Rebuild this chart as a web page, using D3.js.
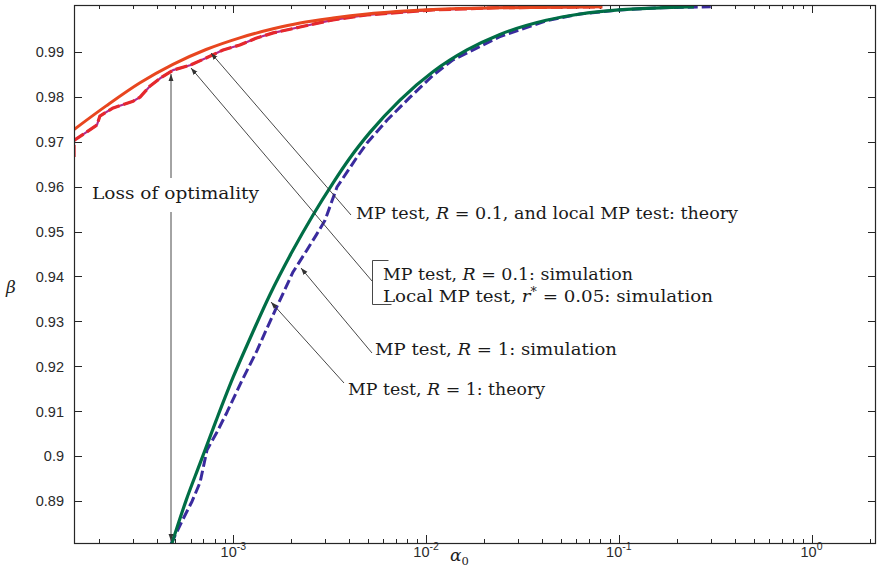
<!DOCTYPE html>
<html><head><meta charset="utf-8">
<script src="https://cdn.jsdelivr.net/npm/d3@7"></script>
<style>body{margin:0;background:#fff}</style>
</head><body>
<script>
// ---------------- data ----------------
const alphaTheoryR01 = [1.49e-4, 2.18e-4, 3.28e-4, 4.86e-4, 7.22e-4, 1.08e-3, 1.61e-3, 2.22e-3, 3.29e-3, 4.94e-3, 1.09e-2, 2.42e-2, 8.2e-2];
const betaTheoryR01  = [0.9727, 0.9779, 0.9831, 0.9872, 0.9905, 0.9931, 0.9951, 0.9964, 0.9975, 0.9984, 0.9994, 0.9998, 1.0000];

const alphaSimR01 = [1.49e-4, 1.49e-4, 1.70e-4, 1.96e-4, 2.03e-4, 2.38e-4, 3.02e-4, 3.28e-4, 3.70e-4, 4.17e-4, 4.86e-4, 5.96e-4, 7.22e-4, 8.84e-4, 1.08e-3, 1.31e-3, 1.61e-3, 2.22e-3, 3.29e-3, 4.94e-3, 1.09e-2, 2.42e-2, 8.2e-2];
const betaSimR01  = [0.9666, 0.9703, 0.9719, 0.9737, 0.9757, 0.9775, 0.9790, 0.9799, 0.9824, 0.9841, 0.9859, 0.9870, 0.9886, 0.9904, 0.9915, 0.9930, 0.9942, 0.9955, 0.9971, 0.9982, 0.9993, 0.9998, 1.0000];

const alphaTheoryR1 = [4.7e-4, 5.7e-4, 6.7e-4, 8.1e-4, 1.0e-3, 1.22e-3, 1.55e-3, 2.0e-3, 2.6e-3, 3.3e-3, 4.0e-3, 5.1e-3, 7.3e-3, 1.09e-2, 1.63e-2, 2.4e-2, 4.2e-2, 6.3e-2, 0.10, 0.17, 0.245];
const betaTheoryR1  = [0.8794, 0.8903, 0.8983, 0.9077, 0.9177, 0.9262, 0.9360, 0.9452, 0.9538, 0.9609, 0.9662, 0.9720, 0.9792, 0.9856, 0.9904, 0.9938, 0.9970, 0.9984, 0.9993, 0.9998, 1.0000];

const alphaSimR1 = [4.75e-4, 5.42e-4, 6.11e-4, 6.72e-4, 7.30e-4, 8.23e-4, 9.27e-4, 1.11e-3, 1.33e-3, 1.48e-3, 1.65e-3, 2.04e-3, 2.41e-3, 2.69e-3, 2.99e-3, 3.45e-3, 4.39e-3, 4.94e-3, 6.28e-3, 8.26e-3, 1.09e-2, 1.38e-2, 2.4e-2, 4.2e-2, 6.3e-2, 0.10, 0.17, 0.30];
const betaSimR1  = [0.8805, 0.8856, 0.8900, 0.8942, 0.9014, 0.9054, 0.9098, 0.9169, 0.9236, 0.9281, 0.9325, 0.9410, 0.9459, 0.9492, 0.9525, 0.9599, 0.9666, 0.9697, 0.9748, 0.9799, 0.9848, 0.9882, 0.9933, 0.9969, 0.9984, 0.9993, 0.9998, 1.0000];

const yTickValues = [0.89, 0.90, 0.91, 0.92, 0.93, 0.94, 0.95, 0.96, 0.97, 0.98, 0.99];
const yTickLabels = ["0.89", "0.9", "0.91", "0.92", "0.93", "0.94", "0.95", "0.96", "0.97", "0.98", "0.99"];
const xTickExponents = [-3, -2, -1, 0];

// ---------------- layout ----------------
const W = 877, H = 575;
const L = 74, T = 5, R = 876, B = 543;
const serif = "'DejaVu Serif', 'Liberation Serif', serif";
const sans = "'Liberation Sans', Arial, Helvetica, sans-serif";

const x = d3.scaleLog().domain([1.49e-4, 2.16]).range([L, R]);
const y = d3.scaleLinear().domain([0.8807, 1.0004]).range([B, T]);

const svg = d3.select("body").append("svg").attr("width", W).attr("height", H);
const defs = svg.append("defs");
defs.append("clipPath").attr("id", "clip").append("rect")
  .attr("x", L).attr("y", T).attr("width", R - L).attr("height", B - T);
defs.append("marker").attr("id", "arr").attr("viewBox", "0 0 10 10")
  .attr("refX", 10).attr("refY", 5).attr("markerWidth", 7).attr("markerHeight", 7)
  .attr("markerUnits", "userSpaceOnUse").attr("orient", "auto")
  .append("path").attr("d", "M0,1.5 L10,5 L0,8.5 Z").attr("fill", "#333");

// ---------------- axes ----------------
const axisColor = "#262626";
const xTicks = [];
for (let e = -4; e <= 0; e++) {
  for (let m = 1; m <= 9; m++) {
    const v = m * Math.pow(10, e);
    if (v >= x.domain()[0] && v <= x.domain()[1]) xTicks.push({v, major: m === 1});
  }
}
const gt = svg.append("g").attr("stroke", axisColor).attr("stroke-width", 1);
xTicks.forEach(t => {
  const len = t.major ? 8 : 4;
  const px = Math.round(x(t.v)) + 0.5;
  gt.append("line").attr("x1", px).attr("x2", px).attr("y1", B).attr("y2", B - len);
  gt.append("line").attr("x1", px).attr("x2", px).attr("y1", T).attr("y2", T + len);
});
yTickValues.forEach(v => {
  const py = Math.round(y(v)) + 0.5;
  gt.append("line").attr("x1", L).attr("x2", L + 8).attr("y1", py).attr("y2", py);
  gt.append("line").attr("x1", R).attr("x2", R - 8).attr("y1", py).attr("y2", py);
});

// y tick labels
svg.append("g").selectAll("text").data(yTickValues).join("text")
  .attr("x", L - 10).attr("y", d => y(d)).attr("dy", "0.36em")
  .attr("text-anchor", "end").style("font-family", sans).style("font-size", "14.5px")
  .attr("fill", "#2a2a2a").text((d, i) => yTickLabels[i]);

// x tick labels 10^e
xTickExponents.forEach(e => {
  const t = svg.append("text").attr("x", x(Math.pow(10, e))).attr("y", 557)
    .attr("text-anchor", "middle").style("font-family", sans).style("font-size", "14.5px").attr("fill", "#2a2a2a");
  t.append("tspan").text("10");
  t.append("tspan").attr("dy", -7).style("font-size", "10.5px").text(String(e));
});

// axis labels
const al = svg.append("text").attr("x", 450).attr("y", 561).style("font-family", serif)
  .style("font-size", "17px").attr("fill", "#222");
al.append("tspan").attr("font-style", "italic").text("α");
al.append("tspan").attr("dy", 4).style("font-size", "11.5px").text("0");
svg.append("text").attr("x", 6).attr("y", 293).style("font-family", serif).attr("font-style", "italic")
  .style("font-size", "17px").attr("fill", "#222").text("β");

// ---------------- curves ----------------
const zip = (a, b) => a.map((v, i) => [v, b[i]]);
const lineSmooth = d3.line().x(d => x(d[0])).y(d => y(d[1])).curve(d3.curveMonotoneX);
const lineLin = d3.line().x(d => x(d[0])).y(d => y(d[1]));
const gc = svg.append("g").attr("clip-path", "url(#clip)").attr("fill", "none")
  .attr("stroke-linejoin", "round");

// R = 1 simulation (blue dashed)
gc.append("path").attr("d", lineLin(zip(alphaSimR1, betaSimR1)))
  .attr("stroke", "#3a2b9e").attr("stroke-width", 3).attr("stroke-dasharray", "10,4");
// R = 1 theory (green)
gc.append("path").attr("d", lineSmooth(zip(alphaTheoryR1, betaTheoryR1)))
  .attr("stroke", "#006e46").attr("stroke-width", 3.2);
// R = 0.1 / local simulation (magenta under red dashed)
gc.append("path").attr("d", lineLin(zip(alphaSimR01, betaSimR01)))
  .attr("stroke", "#b5298a").attr("stroke-width", 2.2);
gc.append("path").attr("d", lineLin(zip(alphaSimR01, betaSimR01)))
  .attr("stroke", "#e5282c").attr("stroke-width", 3.2).attr("stroke-dasharray", "12,4");
// R = 0.1 theory (orange-red)
gc.append("path").attr("d", lineSmooth(zip(alphaTheoryR01, betaTheoryR01)))
  .attr("stroke", "#e8461f").attr("stroke-width", 3);

// box
svg.append("rect").attr("x", L + 0.5).attr("y", T + 0.5).attr("width", R - L - 1).attr("height", B - T)
  .attr("fill", "none").attr("stroke", axisColor).attr("stroke-width", 1.2);

// ---------------- annotations ----------------
const ga = svg.append("g").attr("stroke", "#333").attr("stroke-width", 0.9).attr("fill", "none");
function arrow(x1, y1, x2, y2) {
  ga.append("line").attr("x1", x1).attr("y1", y1).attr("x2", x2).attr("y2", y2).attr("marker-end", "url(#arr)");
}
arrow(171, 178, 171, 74);
arrow(171, 212, 171, 541);
arrow(351, 215, 211, 53);
arrow(372, 281, 191, 68);
arrow(372, 353, 301, 268);
arrow(344, 383, 271, 302);
ga.append("path").attr("d", "M388.5,260.5 H372.5 V304.5 H391.5");

function label(xp, yp, parts, width) {
  const t = svg.append("text").attr("x", xp).attr("y", yp).style("font-family", serif)
    .style("font-size", "17.5px").attr("fill", "#1a1a1a");
  parts.forEach(p => {
    const s = t.append("tspan").text(p[0]);
    if (p[1] === 1) s.attr("font-style", "italic");
    if (p[1] === 2) s.attr("dy", -6).style("font-size", "12px");
    if (p[1] === 3) s.attr("dy", 6);
  });
  if (width) t.attr("textLength", width).attr("lengthAdjust", "spacingAndGlyphs");
  return t;
}
label(92, 199, [["Loss of optimality"]], 167);
label(356, 219, [["MP test, "], ["R", 1], [" = 0.1, and local MP test: theory"]], 382);
label(383, 280, [["MP test, "], ["R", 1], [" = 0.1: simulation"]], 250);
label(383, 302, [["Local MP test, "], ["r", 1], ["*", 2], [" = 0.05: simulation", 3]], 330);
label(375, 355, [["MP test, "], ["R", 1], [" = 1: simulation"]], 242);
label(348, 395, [["MP test, "], ["R", 1], [" = 1: theory"]], 197);
</script>
</body></html>
